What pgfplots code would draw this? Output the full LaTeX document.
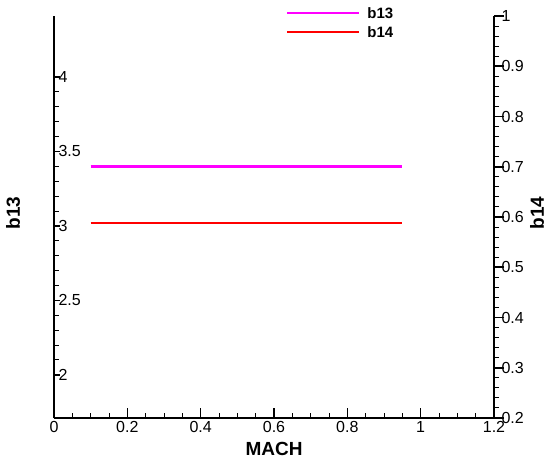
\documentclass[border=0pt]{standalone}
\usepackage{pgfplots}
\pgfplotsset{compat=1.18}
\usepackage{fontspec}
\setmainfont{Liberation Sans}
\definecolor{bmag}{RGB}{255,0,255}
\definecolor{bred}{RGB}{255,0,0}

\begin{document}
\begin{tikzpicture}
\useasboundingbox (-54bp,-40bp) rectangle (496bp,418bp);
\pgfplotsset{
  every axis/.append style={
    width=440bp, height=402bp, scale only axis,
    xmin=0, xmax=1.2,
    clip=false,
    /pgf/number format/assume math mode=true,
    tick label style={font=\fontsize{16bp}{18bp}\selectfont},
    label style={font=\fontsize{19bp}{22bp}\selectfont\bfseries},
    axis line style={-, line width=2bp},
    every outer x axis line/.append style={-},
    every outer y axis line/.append style={-},
    major tick style={line width=1.6bp, black},
    minor tick style={line width=1bp, black},
    major tick length=10bp, minor tick length=5bp,
  }
}
% x axis (MACH)
\begin{axis}[
  axis x line*=bottom, axis y line=none,
  tick align=inside,
  ymin=1.71, ymax=4.41,
  xtick={0,0.2,0.4,0.6,0.8,1,1.2}, minor x tick num=3,
  xlabel={MACH},
  xlabel style={at={(axis description cs:0.5,-0.077)}, anchor=center},
]
\end{axis}
% left axis b13
\begin{axis}[
  axis y line*=left, axis x line=none,
  tick align=inside,
  ymin=1.71, ymax=4.41,
  ytick={2,2.5,3,3.5,4}, minor y tick num=4,
  major tick length=6bp, minor tick length=5bp,
  yticklabel style={anchor=west, xshift=1bp},
  ylabel={b13},
  ylabel style={at={(axis description cs:-0.093,0.51)}, anchor=center},
]
\addplot[bmag, line width=2.5bp] coordinates {(0.1,3.4) (0.95,3.4)};
\end{axis}
% right axis b14
\begin{axis}[
  axis y line=right, axis x line=none,
  tick align=outside,
  y axis line style={-},
  every outer y axis line/.append style={-},
  every inner y axis line/.append style={-},
  ymin=0.2, ymax=1.0,
  ytick={0.2,0.3,0.4,0.5,0.6,0.7,0.8,0.9,1}, minor y tick num=4,
  yticklabel style={anchor=west, xshift=-6bp},
  ylabel={b14},
  ylabel style={at={(axis description cs:1.098,0.51)}, anchor=center, rotate=0,
    font=\fontsize{19bp}{22bp}\selectfont\bfseries},
  legend style={draw=none, fill=none, at={(axis description cs:0.52,1.032)},
    anchor=north west, font=\fontsize{15bp}{17bp}\selectfont\bfseries,
    nodes={inner sep=2bp, text height=11bp, text depth=0pt}, row sep=4bp,
    column sep=5bp},
  legend image code/.code={\draw[#1] (0bp,0bp) -- (72bp,0bp);},
  legend cell align=left,
]
\addlegendimage{bmag, line width=2.5bp}
\addlegendentry{b13}
\addplot[bred, line width=2.5bp] coordinates {(0.1,0.588) (0.95,0.588)};
\addlegendentry{b14}
\end{axis}
\end{tikzpicture}
\end{document}
